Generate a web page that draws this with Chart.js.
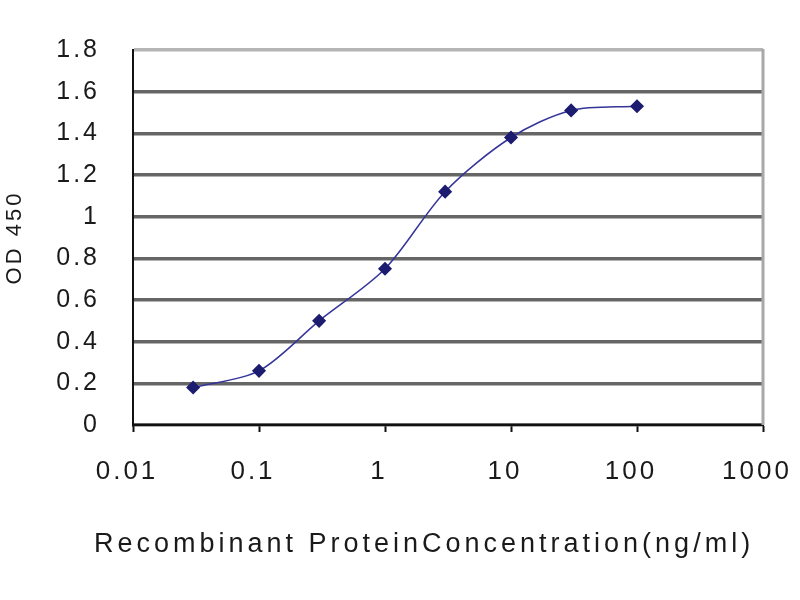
<!DOCTYPE html>
<html>
<head>
<meta charset="utf-8">
<script src="https://cdn.jsdelivr.net/npm/chart.js@4"></script>
<style>
  html, body { margin: 0; padding: 0; background: #fff; }
  #box { width: 800px; height: 600px; }
</style>
</head>
<body>
<div id="box"><canvas id="myChart" width="800" height="600"></canvas></div>
<script>
// concentration (ng/ml) and OD 450
var concentrations = [0.03, 0.1, 0.3, 1, 3, 10, 30, 100];
var odValues = [0.18, 0.26, 0.50, 0.75, 1.12, 1.38, 1.51, 1.53];
var xTickValues = [0.01, 0.1, 1, 10, 100, 1000];
var xTitle = 'Recombinant ProteinConcentration(ng/ml)';
var yTitle = 'OD 450';

var points = concentrations.map(function (c, i) { return { x: c, y: odValues[i] }; });

// spread letters a bit like the scanned original
var spacing = {
  id: 'spacing',
  beforeUpdate: function (chart) { chart.ctx.letterSpacing = '3px'; },
  beforeDraw: function (chart) { chart.ctx.letterSpacing = '3px'; }
};

// light grey right edge of the plot box + x axis title (sits a bit left of centre in the original)
var extras = {
  id: 'extras',
  afterDraw: function (chart) {
    var a = chart.chartArea, ctx = chart.ctx;
    ctx.save();
    ctx.strokeStyle = '#a8a8a8';
    ctx.lineWidth = 3;
    ctx.beginPath();
    ctx.moveTo(a.right, a.top - 1);
    ctx.lineTo(a.right, a.bottom);
    ctx.stroke();

    ctx.letterSpacing = '4px';
    ctx.font = '27px "Liberation Sans"';
    ctx.fillStyle = '#1a1a1a';
    ctx.textAlign = 'center';
    ctx.textBaseline = 'middle';
    ctx.fillText(xTitle, 424, 545);
    ctx.restore();
  }
};

var config = {
  type: 'line',
  data: {
    datasets: [{
      label: 'OD 450',
      data: points,
      borderColor: '#34349a',
      borderWidth: 1.5,
      backgroundColor: '#1c1c70',
      pointBackgroundColor: '#1c1c70',
      pointBorderColor: '#1c1c70',
      pointStyle: 'rectRot',
      pointRadius: 6,
      tension: 0.3,
      fill: false
    }]
  },
  options: {
    responsive: false,
    animation: false,
    layout: { padding: { top: 50, right: 37, left: 0, bottom: 0 } },
    plugins: {
      legend: { display: false },
      tooltip: { enabled: false }
    },
    scales: {
      x: {
        type: 'logarithmic',
        min: 0.01,
        max: 1000,
        afterBuildTicks: function (scale) {
          scale.ticks = xTickValues.map(function (v) { return { value: v }; });
        },
        afterFit: function (scale) {
          scale.height = 175;
          scale.paddingLeft = 0;
          scale.paddingRight = 0;
        },
        ticks: {
          autoSkip: false,
          maxRotation: 0,
          padding: 24,
          labelOffset: -6,
          color: '#1a1a1a',
          font: { family: 'Liberation Sans', size: 26 },
          callback: function (v) { return String(v); }
        },
        grid: {
          drawOnChartArea: false,
          drawTicks: true,
          tickLength: 7,
          tickColor: '#111',
          tickWidth: 2
        },
        border: { color: '#111', width: 2 },
        title: { display: false }
      },
      y: {
        min: 0,
        max: 1.8,
        afterFit: function (scale) { scale.width = 133; },
        ticks: {
          stepSize: 0.2,
          padding: 33,
          color: '#1a1a1a',
          font: { family: 'Liberation Sans', size: 25 },
          callback: function (v) { return String(Number(v.toFixed(1))); }
        },
        grid: {
          drawTicks: false,
          lineWidth: 3.5,
          color: function (ctx) {
            return ctx.tick && ctx.tick.value > 1.75 ? '#b4b4b4' : '#666666';
          }
        },
        border: { color: '#111', width: 2 },
        title: {
          display: true,
          text: yTitle,
          color: '#1a1a1a',
          font: { family: 'Liberation Sans', size: 22 },
          padding: { top: 2, bottom: 0 }
        }
      }
    }
  },
  plugins: [spacing, extras]
};

var chartInstance = new Chart(document.getElementById('myChart'), config);
</script>
</body>
</html>
